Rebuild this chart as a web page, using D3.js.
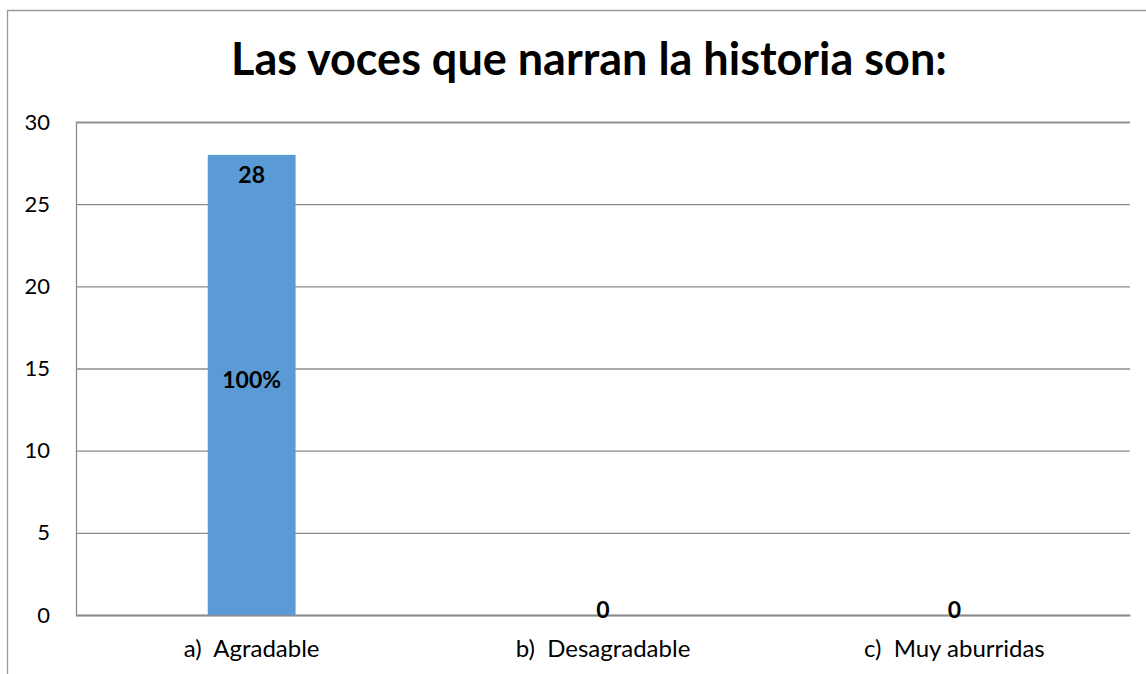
<!DOCTYPE html>
<html><head><meta charset="utf-8">
<script src="https://cdn.jsdelivr.net/npm/d3@7"></script>
<style>body{margin:0;background:#fff;overflow:hidden;}svg{display:block;font-family:Lato,"Open Sans",sans-serif;}text{white-space:pre;}</style>
</head><body>
<script>
const title = "Las voces que narran la historia son:";
const categories = ["a)  Agradable", "b)  Desagradable", "c)  Muy aburridas"];
const values = [28, 0, 0];
const percentLabels = ["100%", "", ""];
const yTicks = [0, 5, 10, 15, 20, 25, 30];

const W = 1146, H = 674;
const svg = d3.select("body").append("svg").attr("width", W).attr("height", H);
svg.append("path").attr("d", `M7.5,${H} V10.5 H${W}`)
  .attr("fill", "none").attr("stroke", "#9a9a9a").attr("stroke-width", 1.3);

const m = {left: 76, right: 1130, top: 122, bottom: 615};
const x = d3.scaleBand().domain(categories).range([m.left, m.right]).paddingInner(0.75).paddingOuter(0.375);
const y = d3.scaleLinear().domain([0, 30]).range([m.bottom, m.top]);

svg.append("text").attr("x", 589).attr("y", 75).attr("text-anchor", "middle")
  .attr("font-size", 45).attr("font-weight", "bold").attr("fill", "#000").text(title);

const yAxis = d3.axisLeft(y).tickValues(yTicks).tickSize(-(m.right - m.left)).tickPadding(26);
const gy = svg.append("g").attr("transform", `translate(${m.left},0)`).call(yAxis);
gy.select(".domain").attr("stroke", "#8c8c8c").attr("stroke-width", 1.3);
gy.selectAll(".tick line").attr("stroke", "#8c8c8c").attr("stroke-width", 1.3);
gy.selectAll(".tick text").attr("font-size", 22).attr("fill", "#000").attr("font-family", "Lato, 'Open Sans', sans-serif");

const xAxis = d3.axisBottom(x).tickSize(0).tickPadding(25);
const gx = svg.append("g").attr("transform", `translate(0,${m.bottom})`).call(xAxis);
gx.select(".domain").attr("stroke", "#8c8c8c").attr("stroke-width", 1.3);
gx.selectAll(".tick text").attr("font-size", 24).attr("fill", "#000").attr("font-family", "Lato, 'Open Sans', sans-serif")
  .style("white-space", "pre");

const bw = x.bandwidth();
svg.selectAll(".bar").data(values).enter().append("rect")
  .attr("x", (d, i) => x(categories[i])).attr("width", bw)
  .attr("y", d => y(d)).attr("height", d => y(0) - y(d)).attr("fill", "#5b9bd5");

svg.selectAll(".vlab").data(values).enter().append("text")
  .attr("x", (d, i) => x(categories[i]) + bw / 2)
  .attr("y", d => d > 0 ? y(d) + 28 : y(0) + 3)
  .attr("text-anchor", "middle").attr("font-size", 23).attr("font-weight", "bold").attr("fill", "#000")
  .text(d => d);

svg.selectAll(".plab").data(values).enter().append("text")
  .attr("x", (d, i) => x(categories[i]) + bw / 2)
  .attr("y", d => (y(d) + y(0)) / 2 + 3)
  .attr("text-anchor", "middle").attr("font-size", 23).attr("font-weight", "bold").attr("fill", "#000")
  .text((d, i) => percentLabels[i]);
</script>
</body></html>
